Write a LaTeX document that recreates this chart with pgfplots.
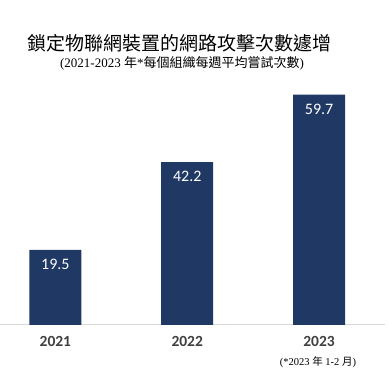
\documentclass[border=0pt]{standalone}
\usepackage{pgfplots}
\pgfplotsset{compat=1.18}
\usepackage{fontspec}
\setmainfont{Liberation Serif}
\newfontfamily\cjk{Noto Sans CJK TC}
\newfontfamily\calibri{Carlito}
\definecolor{navy}{RGB}{31,56,100}
\definecolor{lblgray}{RGB}{64,64,64}
\definecolor{axgray}{RGB}{217,217,217}
\begin{document}
\begin{tikzpicture}[x=1pt,y=1pt]
\useasboundingbox (0,0) rectangle (389,380);
\begin{axis}[
  at={(0pt,55pt)}, anchor=south west,
  width=385pt, height=270pt, scale only axis,
  xmin=-0.42, xmax=2.5, ymin=0, ymax=70,
  ybar, bar width=52pt,
  axis y line=none, axis x line=bottom,
  x axis line style={draw=axgray, line width=1pt, -},
  xtick={0,1,2}, xticklabels={2021,2022,2023},
  major tick length=0pt,
  xticklabel style={font=\calibri\bfseries\fontsize{15.5}{16}\selectfont, text=lblgray, anchor=center, yshift=-16pt},
  /pgf/number format/assume math mode=true,
  nodes near coords={\pgfmathprintnumber[fixed,precision=1,fixed zerofill,assume math mode=true]{\pgfplotspointmeta}},
  every node near coord/.append style={anchor=north, inner sep=0pt, yshift=-9pt, text=white, font=\calibri\fontsize{16}{16}\selectfont},
  clip=false,
]
\addplot[fill=navy, draw=none] coordinates {(0,19.5) (1,42.2) (2,59.7)};
\end{axis}
\node[font=\cjk\fontsize{19}{19}\selectfont] at (179.5,337) {鎖定物聯網裝置的網路攻擊次數遽增};
\node[font=\fontsize{13}{13}\selectfont] at (182,317) {(2021-2023 {\cjk 年}*{\cjk 每個組織每週平均嘗試次數})};
\node[font=\fontsize{10.5}{10.5}\selectfont] at (318,18.3) {(*2023 {\cjk 年} 1-2 {\cjk 月})};
\end{tikzpicture}
\end{document}
